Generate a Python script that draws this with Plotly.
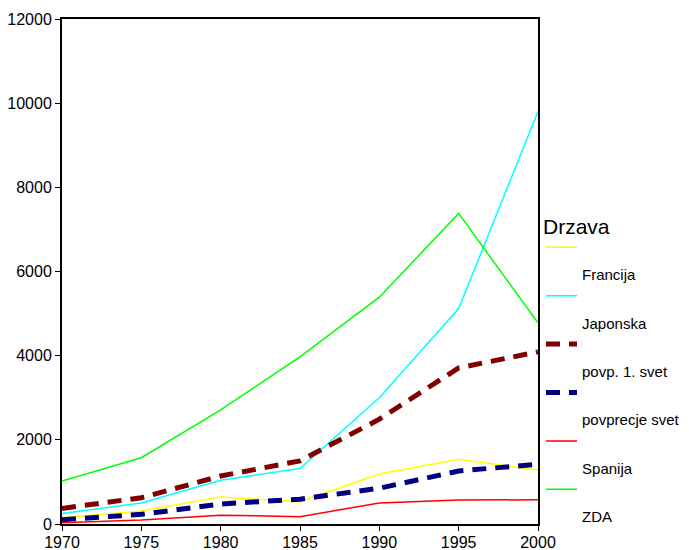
import plotly.graph_objects as go

years = [1970, 1975, 1980, 1985, 1990, 1995, 2000]
y_ticks = [0, 2000, 4000, 6000, 8000, 10000, 12000]

names = ["Francija", "Japonska", "povp. 1. svet", "povprecje svet", "Spanija", "ZDA"]
francija = [150, 310, 640, 530, 1190, 1540, 1280]
japonska = [250, 500, 1040, 1320, 3000, 5120, 9800]
povp_1_svet = [370, 625, 1140, 1500, 2490, 3710, 4090]
povprecje_svet = [100, 230, 475, 590, 850, 1260, 1420]
spanija = [30, 95, 210, 175, 500, 570, 575]
zda = [1020, 1575, 2710, 3970, 5390, 7380, 4780]

series = [francija, japonska, povp_1_svet, povprecje_svet, spanija, zda]
colors = ["#ffff00", "#00ffff", "#800000", "#000080", "#ff0000", "#00ff00"]
widths = [1.5, 1.5, 5, 5, 1.5, 1.5]
dashes = ["solid", "solid", "14px,9px", "14px,9px", "solid", "solid"]

fig = go.Figure()
for i, (n, s, c, w, d) in enumerate(zip(names, series, colors, widths, dashes)):
    fig.add_trace(go.Scatter(
        x=years, y=s, mode="lines",
        name="<br><br><span style='font-size:15px'>" + n + "</span>",
        legendgroup=f"g{i}",
        line=dict(color=c, width=w, dash=d),
    ))

# page body has an 8px default margin, so the figure is sized/offset to fit the window
fig.update_layout(
    width=681, height=542,
    margin=dict(l=54, r=0, t=11, b=26),
    paper_bgcolor="white", plot_bgcolor="white",
    font=dict(family="Liberation Sans, Arial, sans-serif", color="black", size=16),
    legend=dict(
        title=dict(text="Drzava", font=dict(size=21)),
        x=0.764, xanchor="left", y=0.629, yanchor="top",
        valign="top", font=dict(size=11), itemwidth=31,
        tracegroupgap=2.5,
        bgcolor="rgba(0,0,0,0)",
    ),
)
fig.update_xaxes(
    domain=[0, 476 / 627],
    range=[1970, 2000], tickvals=years, ticktext=[str(y) for y in years],
    showgrid=False, zeroline=False, showline=True, linecolor="black", linewidth=2,
    mirror=True, ticks="outside", ticklen=5, tickcolor="black", tickfont=dict(size=16),
    ticklabelstandoff=-2, automargin=False,
)
fig.update_yaxes(
    range=[0, 12000], tickvals=y_ticks, ticktext=[str(v) for v in y_ticks],
    showgrid=False, zeroline=False, showline=True, linecolor="black", linewidth=2,
    mirror=True, ticks="outside", ticklen=5, tickcolor="black", tickfont=dict(size=16),
    automargin=False,
)

fig.write_html("out.html")
